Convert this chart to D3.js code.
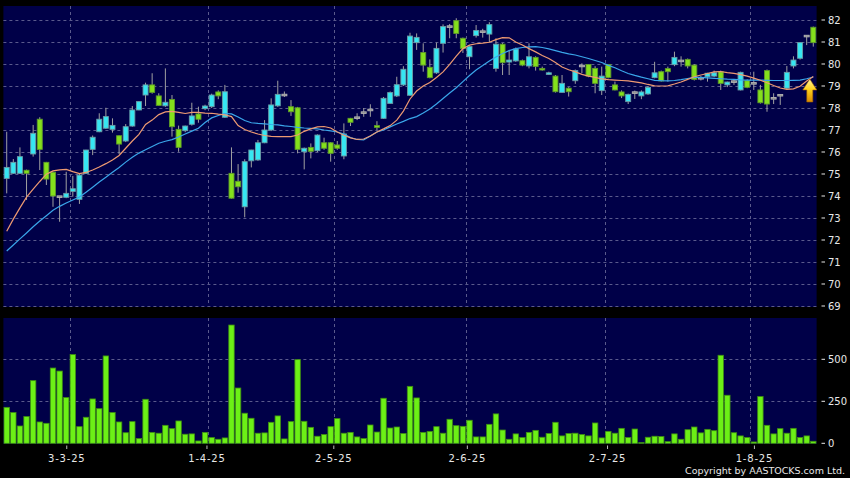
<!DOCTYPE html>
<html><head><meta charset="utf-8">
<script src="https://cdn.jsdelivr.net/npm/d3@7"></script>
<style>html,body{margin:0;padding:0;background:#000;} svg{display:block;}</style>
</head><body>
<svg id="c" width="850" height="478"></svg>
<script>
// ---- categories (trading days) ----
const startDate = [2025, 1, 17], endDate = [2025, 7, 14];
const holidays = ["2025-04-04","2025-04-18","2025-04-21","2025-05-01","2025-05-05","2025-07-01"];
const tickLabels = ["3-3-25","1-4-25","2-5-25","2-6-25","2-7-25","1-8-25"];
const priceTicks = [69,70,71,72,73,74,75,76,77,78,79,80,81,82];
const volTicks = [0,250,500];

// ---- series ----
const open  = [74.80,75.03,75.03,75.17,75.91,77.49,75.53,75.08,73.97,73.94,74.21,73.85,75.03,76.12,76.92,77.08,77.03,76.74,76.50,77.18,
77.91,78.59,79.05,78.55,78.10,78.39,77.03,76.97,77.26,77.73,77.97,78.06,78.73,77.58,75.03,74.67,73.51,75.60,75.64,76.42,
77.00,78.10,78.59,78.06,78.01,76.01,76.21,76.06,76.42,76.42,76.32,75.82,77.53,77.56,77.79,77.91,77.20,77.53,78.21,78.55,
79.05,78.58,80.97,80.52,79.85,79.60,80.94,81.70,81.97,81.17,80.33,81.29,81.47,81.36,79.80,80.90,80.09,80.14,80.15,79.91,
80.30,79.80,79.55,79.45,78.71,78.90,79.24,79.91,79.98,79.80,78.79,79.98,79.05,78.73,78.29,78.70,78.55,78.64,79.38,79.65,
79.79,79.97,80.14,80.21,79.95,79.35,79.42,79.45,79.65,79.05,79.20,78.82,79.24,79.12,78.82,79.70,78.44,78.58,78.90,79.91,
80.26,81.27,81.67];
const high  = [76.92,75.68,76.21,75.20,77.23,77.58,75.55,75.10,74.00,75.10,74.91,75.00,76.10,76.75,77.76,78.01,77.53,76.75,77.27,78.09,
78.30,79.15,79.58,78.67,79.80,78.59,77.20,77.20,78.24,78.06,78.15,78.65,78.80,79.05,76.21,75.45,75.67,76.10,76.55,77.45,
78.44,79.24,78.75,78.36,78.05,76.20,76.39,76.80,76.65,76.45,76.50,77.30,77.55,77.76,78.00,78.17,77.40,78.50,78.75,79.42,
79.90,81.42,81.39,80.94,80.21,80.97,81.80,81.82,82.08,81.20,80.85,81.77,81.60,81.90,81.17,80.95,80.64,80.75,80.20,80.94,
80.35,79.88,79.65,79.50,79.50,78.95,79.75,80.03,80.00,79.90,79.88,80.00,79.20,78.80,78.65,78.79,78.80,79.00,80.10,79.70,
79.88,80.56,80.35,80.25,80.00,79.45,79.60,79.70,79.70,79.20,79.30,79.65,79.30,79.65,79.05,79.75,78.67,78.60,79.91,80.35,
81.00,81.30,81.70];
const low   = [74.12,75.00,75.00,73.82,75.79,75.18,74.50,73.51,72.83,73.90,73.97,73.64,75.00,75.86,76.90,77.05,76.88,75.91,76.45,77.15,
77.90,78.09,78.65,78.10,78.05,76.70,76.01,76.90,77.20,77.33,77.90,78.00,78.40,77.55,73.88,74.15,73.03,75.30,75.60,76.40,
76.95,78.05,78.50,77.64,75.94,75.21,75.71,76.00,76.10,75.56,76.10,75.67,77.18,77.45,77.60,77.60,77.00,77.50,78.20,78.50,
79.00,78.55,80.64,79.65,79.35,79.55,80.52,81.17,81.17,80.50,79.76,81.20,81.20,81.00,79.65,79.50,79.50,80.10,79.90,79.80,
79.70,79.70,79.50,78.70,78.70,78.52,79.10,79.58,79.40,78.67,78.59,79.35,78.80,78.45,78.18,78.41,78.40,78.60,79.35,79.20,
79.20,79.90,79.88,79.80,79.25,79.25,79.20,79.40,78.82,78.95,79.05,78.80,78.90,78.82,78.20,77.83,78.18,78.14,78.85,79.80,
80.20,80.86,80.79];
const close = [75.30,75.53,75.79,75.03,76.85,76.12,74.77,74.00,73.97,74.12,74.33,74.95,76.09,76.67,77.49,77.61,77.21,76.36,77.15,77.91,
78.29,79.05,78.71,78.12,78.26,77.15,76.21,77.18,77.64,77.49,78.09,78.59,78.55,78.74,73.90,74.42,75.56,76.09,76.42,77.00,
78.14,78.62,78.59,77.83,76.12,76.17,76.03,76.77,76.17,75.94,76.17,76.82,77.35,77.56,77.79,77.91,77.12,78.44,78.70,79.06,
79.76,81.27,81.21,79.95,79.38,80.71,81.70,81.70,81.39,80.71,80.79,81.52,81.47,81.79,80.90,80.06,80.18,80.68,79.95,80.33,
79.89,79.75,79.60,78.74,79.12,78.74,79.70,79.91,79.45,79.12,79.45,79.39,78.82,78.55,78.62,78.70,78.73,78.94,79.60,79.23,
79.65,80.30,80.14,79.91,79.30,79.35,79.58,79.60,79.12,79.18,79.20,79.62,78.94,79.12,78.24,78.18,78.44,78.58,79.62,80.18,
80.97,81.27,80.97];
const volume = [214,183,103,159,373,127,119,448,430,272,528,99,155,264,206,520,183,127,63,129,
28,262,65,60,107,87,133,54,56,14,65,34,24,32,704,329,179,149,60,62,
125,163,26,129,498,131,95,42,52,99,147,60,65,38,28,109,67,268,91,97,
58,339,270,65,71,99,60,143,105,101,137,38,38,113,175,79,24,56,34,65,
77,36,58,125,44,58,60,52,44,121,32,71,60,89,34,85,4,36,42,40,
10,56,24,81,97,62,83,75,524,286,63,44,34,8,278,107,56,87,60,89,
34,44,12];
const maShort = [72.40,72.95,73.46,73.95,74.31,74.66,74.99,75.14,75.19,75.21,75.11,75.02,75.07,75.18,75.32,75.47,75.64,75.84,76.17,76.50,
76.80,77.25,77.45,77.70,77.82,77.85,77.80,77.75,77.80,77.80,77.77,77.76,77.72,77.69,77.61,77.20,77.02,76.91,76.82,76.75,
76.71,76.70,76.70,76.70,76.77,76.94,77.05,77.14,77.16,77.09,76.91,76.76,76.64,76.57,76.59,76.73,76.91,77.05,77.20,77.45,
77.86,78.41,78.77,79.00,79.16,79.39,79.64,79.98,80.36,80.70,80.86,80.92,80.95,80.99,81.11,81.20,81.19,81.00,80.86,80.70,
80.55,80.39,80.25,80.07,79.86,79.74,79.64,79.53,79.45,79.39,79.32,79.29,79.27,79.25,79.23,79.19,79.14,79.07,79.01,79.00,
79.01,79.09,79.18,79.30,79.42,79.50,79.57,79.64,79.66,79.61,79.57,79.52,79.45,79.36,79.26,79.15,79.02,78.91,78.85,78.87,
78.99,79.23,79.43];
const maLong = [71.50,71.77,72.05,72.32,72.60,72.86,73.10,73.35,73.53,73.68,73.82,73.95,74.17,74.40,74.64,74.85,75.08,75.30,75.54,75.76,
75.95,76.10,76.25,76.40,76.49,76.56,76.68,76.82,76.95,77.08,77.34,77.55,77.66,77.75,77.73,77.59,77.43,77.33,77.30,77.28,
77.25,77.23,77.19,77.16,77.12,77.09,77.07,77.05,77.00,76.96,76.91,76.82,76.66,76.57,76.55,76.73,76.91,77.00,77.14,77.27,
77.39,77.52,77.61,77.77,77.95,78.18,78.43,78.68,78.92,79.20,79.48,79.73,79.93,80.14,80.32,80.48,80.61,80.70,80.75,80.78,
80.79,80.75,80.69,80.61,80.53,80.46,80.41,80.33,80.25,80.16,80.07,79.94,79.83,79.69,79.57,79.48,79.40,79.33,79.26,79.24,
79.23,79.25,79.29,79.34,79.39,79.39,79.37,79.35,79.33,79.31,79.30,79.28,79.27,79.27,79.27,79.26,79.25,79.25,79.25,79.26,
79.27,79.33,79.41];

// ---- build trading days ----
const fmtKey = d3.utcFormat("%Y-%m-%d");
const dates = d3.utcDay.range(new Date(Date.UTC(...startDate)), new Date(Date.UTC(endDate[0], endDate[1], endDate[2] + 1)))
  .filter(d => d.getUTCDay() > 0 && d.getUTCDay() < 6 && !holidays.includes(fmtKey(d)));
const n = dates.length;
const monthStarts = d3.range(1, n).filter(i => dates[i].getUTCMonth() !== dates[i-1].getUTCMonth());

// ---- layout ----
const W = 850, H = 478;
const L = 3.4, R = 816.6;
const pTop = 6, pBot = 307, vTop = 318, vBot = 444;

const svg = d3.select("#c");
svg.append("rect").attr("width", W).attr("height", H).attr("fill", "#000");

const x = d3.scaleBand().domain(d3.range(n)).range([L, R]);
const bw = x.bandwidth();
const xc = i => x(i) + bw / 2;
const xTick = d3.scaleLinear().domain([0, n - 1]).range([0, R - 2.1]);
const y = d3.scaleLinear().domain([69, 82]).range([306, 20]);
const vy = d3.scaleLinear().domain([0, 500]).range([443.3, 359.3]);

const BG = "#000048", GRID = "#5a5a8c";

// panels
svg.append("rect").attr("x", L).attr("y", pTop).attr("width", R - L).attr("height", pBot - pTop).attr("fill", BG);
svg.append("rect").attr("x", L).attr("y", vTop).attr("width", R - L).attr("height", vBot - vTop).attr("fill", BG);

// grids
const g = svg.append("g").attr("stroke", GRID).attr("stroke-width", 1).attr("stroke-dasharray", "3,3").attr("fill", "none");
g.selectAll(".hp").data(priceTicks).join("line")
  .attr("x1", L).attr("x2", R).attr("y1", d => Math.round(y(d)) + 0.5).attr("y2", d => Math.round(y(d)) + 0.5);
g.selectAll(".hv").data(volTicks.filter(v => v > 0)).join("line").attr("class", "hv")
  .attr("x1", L).attr("x2", R).attr("y1", d => Math.round(vy(d)) + 0.5).attr("y2", d => Math.round(vy(d)) + 0.5);
monthStarts.forEach(i => {
  const gx = Math.round(x(i)) + 0.5;
  g.append("line").attr("x1", gx).attr("x2", gx).attr("y1", pTop).attr("y2", pBot);
  g.append("line").attr("x1", gx).attr("x2", gx).attr("y1", vTop).attr("y2", vBot);
});

// volume bars
svg.append("g").selectAll("rect").data(volume).join("rect")
  .attr("x", (d, i) => x(i) + 0.6).attr("width", bw - 1.2)
  .attr("y", d => vy(d)).attr("height", d => vy(0) - vy(d))
  .attr("fill", "#6cf016").attr("stroke", "#3f8f12").attr("stroke-width", 0.8);

// candles
const cg = svg.append("g");
d3.range(n).forEach(i => {
  const o = open[i], c = close[i], h = high[i], l = low[i];
  const up = c > o, flat = Math.abs(c - o) < 0.005;
  const fill = flat ? "#8a8a8a" : (up ? "#36e6f2" : "#84e01c");
  const stroke = flat ? "#b4b4b4" : (up ? "#6a9ca6" : "#5e9a2a");
  cg.append("line").attr("x1", xc(i)).attr("x2", xc(i)).attr("y1", y(h)).attr("y2", y(l))
    .attr("stroke", "#a0a0a0").attr("stroke-width", 1);
  const top = y(Math.max(o, c)), hh = Math.max(1.6, Math.abs(y(o) - y(c)));
  cg.append("rect").attr("x", xc(i) - 2.5).attr("width", 5)
    .attr("y", flat ? top - 0.8 : top).attr("height", hh)
    .attr("fill", fill).attr("stroke", stroke).attr("stroke-width", 0.9);
});

// moving averages
const line = d3.line().x((d, i) => xc(i)).y(d => y(d));
svg.append("path").datum(maLong).attr("d", line).attr("fill", "none").attr("stroke", "#3aa6ea").attr("stroke-width", 1.2);
svg.append("path").datum(maShort).attr("d", line).attr("fill", "none").attr("stroke", "#ee9a72").attr("stroke-width", 1.2);

// arrow
const defs = svg.append("defs");
const grad = defs.append("linearGradient").attr("id", "ag").attr("x1", 0).attr("x2", 0).attr("y1", 0).attr("y2", 1);
grad.append("stop").attr("offset", "0%").attr("stop-color", "#fff3a0");
grad.append("stop").attr("offset", "45%").attr("stop-color", "#ffd21c");
grad.append("stop").attr("offset", "100%").attr("stop-color", "#d88a00");
const ax = xc(n - 1) - 3.5, ay = y(maLong[n - 1]) + 2;
svg.append("path")
  .attr("d", `M${ax},${ay} L${ax + 7},${ay + 11} L${ax + 3},${ay + 11} L${ax + 3},${ay + 23} L${ax - 3},${ay + 23} L${ax - 3},${ay + 11} L${ax - 7},${ay + 11} Z`)
  .attr("fill", "url(#ag)").attr("stroke", "#a06000").attr("stroke-width", 0.6);

// right axes
const FONT = "DejaVu Sans";
const ag = svg.append("g").attr("font-family", FONT).attr("font-size", 10).attr("fill", "#e8e8e8");
priceTicks.forEach(t => {
  ag.append("line").attr("x1", 821.5).attr("x2", 825).attr("y1", y(t)).attr("y2", y(t)).attr("stroke", "#e8e8e8");
  ag.append("text").attr("x", 828).attr("y", y(t)).attr("dy", "0.36em").text(t);
});
volTicks.forEach(t => {
  ag.append("line").attr("x1", 821.5).attr("x2", 825).attr("y1", vy(t)).attr("y2", vy(t)).attr("stroke", "#e8e8e8");
  ag.append("text").attr("x", 828).attr("y", vy(t)).attr("dy", "0.36em").text(t);
});

// date ticks
monthStarts.forEach((i, k) => {
  const tx = xTick(i);
  ag.append("line").attr("x1", tx).attr("x2", tx).attr("y1", 445.5).attr("y2", 449).attr("stroke", "#bbb");
  ag.append("text").attr("x", tx).attr("y", 462).attr("text-anchor", "middle").attr("letter-spacing", 0.8).text(tickLabels[k]);
});

ag.append("text").attr("x", 845).attr("y", 474).attr("text-anchor", "end").attr("font-size", 9.5).text("Copyright by AASTOCKS.com Ltd.");
</script>
</body></html>
